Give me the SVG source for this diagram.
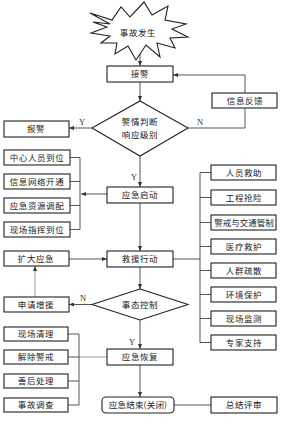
<svg xmlns="http://www.w3.org/2000/svg" width="285" height="424" viewBox="0 0 285 424">
<style>
.box{fill:#fff;stroke:#222;stroke-width:1.1}
.t{font-family:"Noto Sans CJK SC","Noto Sans",sans-serif;font-size:8.5px;fill:#222;text-anchor:middle;letter-spacing:0.6px}
.lbl{font-family:"Liberation Serif",serif;font-size:8.5px;fill:#333;text-anchor:middle}
.c{fill:none;stroke:#444;stroke-width:0.9}
.g{fill:none;stroke:#999;stroke-width:0.9}
</style>
<defs>
<marker id="ah" markerWidth="5" markerHeight="4" refX="5" refY="2" orient="auto" markerUnits="userSpaceOnUse">
<path d="M0,0 L5,2 L0,4 Z" fill="#333"/>
</marker>
</defs>
<rect width="285" height="424" fill="#fff"/>

<g id="connectors">
<line class="c" x1="140" y1="44" x2="140" y2="66" marker-end="url(#ah)"/>
<line class="c" x1="140" y1="82" x2="140" y2="101" marker-end="url(#ah)"/>
<polyline class="c" points="188,128 245,128 245,108"/>
<polyline class="c" points="245,93 245,75 173,75" marker-end="url(#ah)"/>
<line class="c" x1="92" y1="128" x2="69" y2="128" marker-end="url(#ah)"/>
<line class="c" x1="140" y1="156" x2="140" y2="187" marker-end="url(#ah)"/>
<line class="c" x1="107" y1="194" x2="81" y2="194" marker-end="url(#ah)"/>
<path class="c" d="M70,157.5 H80 V229.5 H70 M70,181.5 H80 M70,205.5 H80"/>
<line class="c" x1="140" y1="203" x2="140" y2="251" marker-end="url(#ah)"/>
<line class="c" x1="69" y1="259" x2="107" y2="259" marker-end="url(#ah)"/>
<line class="c" x1="173" y1="259" x2="200" y2="259"/>
<path class="c" d="M211,172.5 H200 V342.5 H211 M200,197.5 H211 M200,222.5 H211 M200,246.5 H211 M200,270.5 H211 M200,294.5 H211 M200,318.5 H211"/>
<line class="c" x1="140" y1="267" x2="140" y2="289" marker-end="url(#ah)"/>
<line class="c" x1="92" y1="304.5" x2="69" y2="304.5" marker-end="url(#ah)"/>
<line class="g" x1="35" y1="297" x2="35" y2="266" marker-end="url(#ah)"/>
<line class="c" x1="140" y1="320" x2="140" y2="349" marker-end="url(#ah)"/>
<line class="g" x1="107" y1="357" x2="79" y2="357"/>
<path class="c" d="M68,334 H79 V405 H68 M68,357 H79 M68,381 H79"/>
<line class="c" x1="140" y1="365" x2="140" y2="397" marker-end="url(#ah)"/>
<line class="c" x1="174" y1="405" x2="211" y2="405"/>
<text class="lbl" x="82" y="125">Y</text>
<text class="lbl" x="200" y="125">N</text>
<text class="lbl" x="134" y="180">Y</text>
<text class="lbl" x="83" y="301">N</text>
<text class="lbl" x="132" y="345">Y</text>
</g>

<g id="n-start">
<polygon class="box" points="90,13 112,20 121,7 130,17 144,2 152,15 168,6 165,20 186,24 172,29 188,37 170,38 175,48 157,43 160,57 146,45 136,60 128,46 115,54 117,43 101,43 110,36 91,33 107,27 93,22 110,24"/>
<text class="t" x="138" y="36">事故发生</text>
</g>
<g id="n-jiejing"><rect class="box" x="107" y="66" width="66" height="16"/><text class="t" x="140" y="77">接警</text></g>
<g id="n-judge"><polygon class="box" points="140,101 188,128 140,156 92,128"/><text class="t" x="140" y="125">警情判断</text><text class="t" x="140" y="138">响应级别</text></g>
<g id="n-feedback"><rect class="box" x="212" y="93" width="65" height="15"/><text class="t" x="245" y="104">信息反馈</text></g>
<g id="n-baojing"><rect class="box" x="4" y="121" width="65" height="16"/><text class="t" x="36" y="132">报警</text></g>

<g id="n-l1"><rect class="box" x="4" y="150" width="66" height="15"/><text class="t" x="37" y="161">中心人员到位</text></g>
<g id="n-l2"><rect class="box" x="4" y="174" width="66" height="15"/><text class="t" x="37" y="185">信息网络开通</text></g>
<g id="n-l3"><rect class="box" x="4" y="198" width="66" height="15"/><text class="t" x="37" y="209">应急资源调配</text></g>
<g id="n-l4"><rect class="box" x="4" y="222" width="66" height="15"/><text class="t" x="37" y="233">现场指挥到位</text></g>

<g id="n-qidong"><rect class="box" x="107" y="187" width="66" height="16"/><text class="t" x="140" y="198">应急启动</text></g>
<g id="n-jiuyuan"><rect class="box" x="107" y="251" width="66" height="16"/><text class="t" x="140" y="262">救援行动</text></g>
<g id="n-kuoda"><rect class="box" x="4" y="251" width="65" height="15"/><text class="t" x="36" y="262">扩大应急</text></g>

<g id="n-r1"><rect class="box" x="211" y="165" width="65" height="15"/><text class="t" x="244" y="176">人员救助</text></g>
<g id="n-r2"><rect class="box" x="211" y="190" width="65" height="15"/><text class="t" x="244" y="201">工程抢险</text></g>
<g id="n-r3"><rect class="box" x="211" y="215" width="65" height="15"/><text class="t" x="244" y="226" style="letter-spacing:0">警戒与交通管制</text></g>
<g id="n-r4"><rect class="box" x="211" y="239" width="65" height="15"/><text class="t" x="244" y="250">医疗救护</text></g>
<g id="n-r5"><rect class="box" x="211" y="263" width="65" height="15"/><text class="t" x="244" y="274">人群疏散</text></g>
<g id="n-r6"><rect class="box" x="211" y="287" width="65" height="15"/><text class="t" x="244" y="298">环境保护</text></g>
<g id="n-r7"><rect class="box" x="211" y="311" width="65" height="15"/><text class="t" x="244" y="322">现场监测</text></g>
<g id="n-r8"><rect class="box" x="211" y="335" width="65" height="15"/><text class="t" x="244" y="346">专家支持</text></g>

<g id="n-control"><polygon class="box" points="140,289 188,304.5 140,320 92,304.5"/><text class="t" x="140" y="308">事态控制</text></g>
<g id="n-shenqing"><rect class="box" x="4" y="297" width="65" height="15"/><text class="t" x="36" y="308">申请增援</text></g>

<g id="n-b1"><rect class="box" x="4" y="327" width="64" height="14"/><text class="t" x="36" y="337">现场清理</text></g>
<g id="n-b2"><rect class="box" x="4" y="350" width="64" height="14"/><text class="t" x="36" y="360">解除警戒</text></g>
<g id="n-b3"><rect class="box" x="4" y="374" width="64" height="14"/><text class="t" x="36" y="384">善后处理</text></g>
<g id="n-b4"><rect class="box" x="4" y="398" width="64" height="14"/><text class="t" x="36" y="408">事故调查</text></g>

<g id="n-huifu"><rect class="box" x="107" y="349" width="66" height="16"/><text class="t" x="140" y="360">应急恢复</text></g>
<g id="n-end"><rect class="box" x="102" y="397" width="72" height="16" rx="4"/><text class="t" x="138" y="408" style="letter-spacing:0.2px">应急结束(关闭)</text></g>
<g id="n-review"><rect class="box" x="211" y="397" width="66" height="16"/><text class="t" x="244" y="408">总结评审</text></g>
</svg>
